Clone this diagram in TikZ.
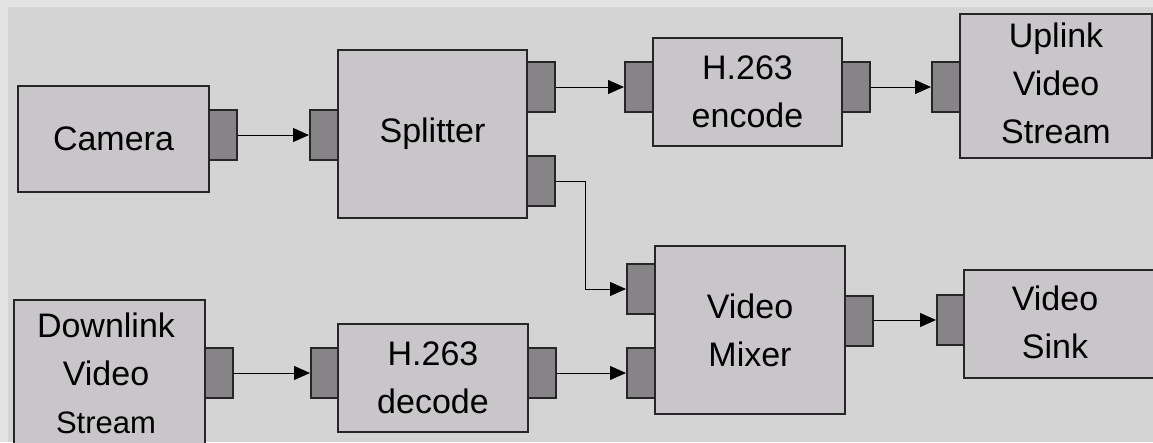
\documentclass[tikz,border=0pt]{standalone}
\usepackage{fontspec}
\setmainfont{Liberation Sans}
\usetikzlibrary{arrows.meta}
\definecolor{outerbg}{HTML}{E3E3E3}
\definecolor{innerbg}{HTML}{D4D4D4}
\definecolor{boxfill}{HTML}{C8C6C8}
\definecolor{portfill}{HTML}{868486}
\begin{document}
\begin{tikzpicture}[x=1pt,y=-1pt,
  box/.style={draw=black!85, line width=2pt, fill=boxfill, inner sep=0pt, align=center,
    font=\fontsize{34}{48}\selectfont},
  port/.style={draw=black!85, line width=2pt, fill=portfill, minimum width=28pt, minimum height=50pt, inner sep=0pt},
  lbl/.style={inner sep=0pt, align=center, font=\fontsize{34}{48}\selectfont},
  conn/.style={line width=1pt, -{Triangle[length=16pt,width=14pt]}}]
\useasboundingbox (0,0) rectangle (1153,442);
\clip (0,0) rectangle (1153,442);
\fill[outerbg] (0,0) rectangle (1153,442);
\fill[innerbg] (8,7) rectangle (1153,442);
% boxes
\node[box, minimum width=191pt, minimum height=106pt] (cam) at (113.5,139) {Camera};
\node[box, minimum width=189pt, minimum height=168pt] (spl) at (432.5,134) {Splitter};
\node[box, minimum width=189pt, minimum height=108pt] (enc) at (747.5,92) {H.263\\encode};
\node[box, minimum width=192pt, minimum height=144pt] (up) at (1056,86) {};
\node[lbl] (uplbl) at (1056,83) {Uplink\\Video\\Stream};
\node[box, minimum width=190pt, minimum height=168pt] (mix) at (750,330) {Video\\Mixer};
\node[box, minimum width=206pt, minimum height=108pt] (sink) at (1067,324) {};
\node[lbl] (sinklbl) at (1055,322) {Video\\Sink};
\node[box, minimum width=191pt, minimum height=170pt] (down) at (109.5,385) {};
\node[lbl] (downlbl) at (106,373) {Downlink\\Video\\{\fontsize{31}{44}\selectfont Stream}};
\node[box, minimum width=190pt, minimum height=108pt] (dec) at (433,378) {H.263\\decode};
% ports
\node[port] (camout) at (223,135) {};
\node[port] (splin) at (324,135) {};
\node[port] (splout1) at (541,87) {};
\node[port] (splout2) at (541,181) {};
\node[port] (encin) at (639,87) {};
\node[port] (encout) at (856,87) {};
\node[port] (upin) at (946,87) {};
\node[port] (mixin1) at (641,289) {};
\node[port] (mixin2) at (641,373) {};
\node[port] (mixout) at (859,321) {};
\node[port, minimum width=27pt] (sinkin) at (950.5,320) {};
\node[port] (downout) at (219,373) {};
\node[port, minimum width=27pt] (decin) at (324.5,373) {};
\node[port] (decout) at (542,373) {};
% connectors
\draw[conn] (camout.east) -- (splin.west);
\draw[conn] (splout1.east) -- (encin.west);
\draw[conn] (encout.east) -- (upin.west);
\draw[conn] (splout2.east) -- ++(29,0) |- (mixin1.west);
\draw[conn] (decout.east) -- (mixin2.west);
\draw[conn] (downout.east) -- (decin.west);
\draw[conn] (mixout.east |- sinkin.west) -- (sinkin.west);
\end{tikzpicture}
\end{document}
